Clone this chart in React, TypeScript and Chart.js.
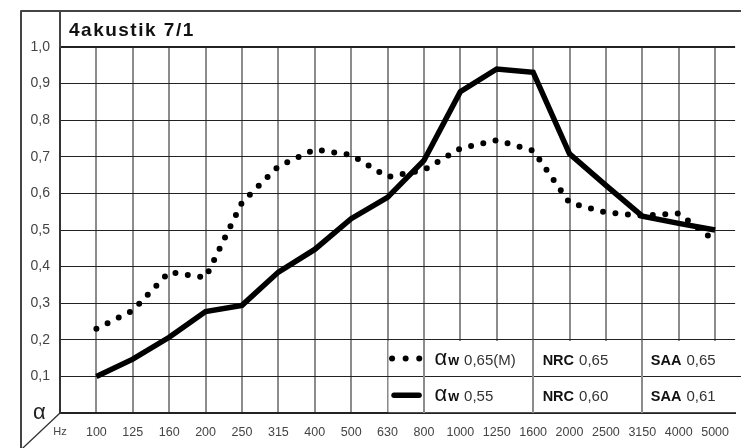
import { useEffect, useRef } from 'react';
import { Chart, registerables } from 'chart.js';

Chart.register(...registerables);

const TITLE = '4akustik 7/1';
const UNIT_LABEL = 'Hz';
const AXIS_SYMBOL = 'α';
const FREQ_LABELS = ['100', '125', '160', '200', '250', '315', '400', '500', '630', '800', '1000', '1250', '1600', '2000', '2500', '3150', '4000', '5000'];
const ALPHA_DOTTED = [0.23, 0.28, 0.385, 0.37, 0.575, 0.674, 0.72, 0.705, 0.645, 0.664, 0.723, 0.745, 0.717, 0.574, 0.548, 0.539, 0.545, 0.47];
const ALPHA_SOLID = [0.1, 0.147, 0.207, 0.277, 0.294, 0.385, 0.447, 0.531, 0.589, 0.69, 0.878, 0.94, 0.931, 0.708, 0.622, 0.538, 0.518, 0.5];
const Y_MIN = 0;
const Y_MAX = 1;
const Y_STEP = 0.1;
const X_VISIBLE_MAX = 17.55;
const LEGEND_AW = ['0,65(M)', '0,55'];
const LEGEND_NRC = ['0,65', '0,60'];
const LEGEND_SAA = ['0,65', '0,61'];

const FONT = "'Liberation Sans', Arial, sans-serif";

const framePlugin = {
  id: 'frame',
  afterDraw(chart: any) {
    const { ctx, scales, width: W, height: H } = chart;
    const x = scales.x;
    const y = scales.y;
    const left = x.getPixelForValue(-1);
    const yTopGrid = y.getPixelForValue(1);
    const y0 = y.getPixelForValue(0);
    ctx.save();

    // ---- legend table ----
    const lx = x.getPixelForValue(8);
    const cols = [9, 12, 15].map((v) => x.getPixelForValue(v));
    const rTop = y.getPixelForValue(0.2);
    const rMid = y.getPixelForValue(0.1);
    ctx.fillStyle = '#fff';
    ctx.fillRect(lx + 1, Math.round(rTop) + 1, W - lx, y0 - rTop - 2);
    ctx.strokeStyle = '#222';
    ctx.lineWidth = 1;
    ctx.beginPath();
    ctx.moveTo(lx, Math.round(rMid - 0.5) + 0.5);
    ctx.lineTo(W, Math.round(rMid - 0.5) + 0.5);
    ctx.stroke();
    ctx.strokeStyle = '#8c8c8c';
    ctx.lineWidth = 2;
    ctx.beginPath();
    for (const c of cols) {
      const cx = Math.round(c - 1) + 1;
      ctx.moveTo(cx, rTop);
      ctx.lineTo(cx, y0);
    }
    ctx.stroke();

    const rowBase = [rTop + 25, rMid + 25];
    const rowMid = [(rTop + rMid) / 2 + 0.5, (rMid + y0) / 2 + 0.5];
    for (let r = 0; r < 2; r++) {
      // sample
      ctx.fillStyle = '#000';
      ctx.strokeStyle = '#000';
      if (r === 0) {
        for (let k = 0; k < 3; k++) {
          ctx.beginPath();
          ctx.arc(lx + 4.5 + k * 13.6, rowMid[r], 3, 0, Math.PI * 2);
          ctx.fill();
        }
      } else {
        ctx.lineWidth = 5.5;
        ctx.lineCap = 'round';
        ctx.beginPath();
        ctx.moveTo(lx + 6.5, rowMid[r]);
        ctx.lineTo(lx + 31.5, rowMid[r]);
        ctx.stroke();
      }
      ctx.textBaseline = 'alphabetic';
      ctx.textAlign = 'left';
      // alpha w
      let tx = cols[0] + 10.5;
      ctx.fillStyle = '#111';
      ctx.font = `22px ${FONT}`;
      ctx.fillText(AXIS_SYMBOL, tx, rowBase[r]);
      tx += ctx.measureText(AXIS_SYMBOL).width + 1;
      ctx.font = `bold 14px ${FONT}`;
      ctx.fillText('w', tx, rowBase[r]);
      tx += ctx.measureText('w').width + 5;
      ctx.fillStyle = '#333';
      ctx.font = `15px ${FONT}`;
      ctx.fillText(LEGEND_AW[r], tx, rowBase[r]);
      // NRC
      tx = cols[1] + 9.5;
      ctx.fillStyle = '#111';
      ctx.font = `bold 14.5px ${FONT}`;
      ctx.fillText('NRC', tx, rowBase[r]);
      tx += ctx.measureText('NRC').width + 5;
      ctx.fillStyle = '#333';
      ctx.font = `15px ${FONT}`;
      ctx.fillText(LEGEND_NRC[r], tx, rowBase[r]);
      // SAA
      tx = cols[2] + 8.5;
      ctx.fillStyle = '#111';
      ctx.font = `bold 14.5px ${FONT}`;
      ctx.fillText('SAA', tx, rowBase[r]);
      tx += ctx.measureText('SAA').width + 5;
      ctx.fillStyle = '#333';
      ctx.font = `15px ${FONT}`;
      ctx.fillText(LEGEND_SAA[r], tx, rowBase[r]);
    }

    // ---- outer frame ----
    const frameX = 21;
    const frameY = 11;
    ctx.strokeStyle = '#444';
    ctx.lineWidth = 2;
    ctx.beginPath();
    ctx.moveTo(frameX, frameY);
    ctx.lineTo(W, frameY);
    ctx.moveTo(frameX, frameY);
    ctx.lineTo(frameX, H);
    ctx.moveTo(left, frameY);
    ctx.lineTo(left, yTopGrid);
    ctx.stroke();
    // diagonal
    ctx.strokeStyle = '#333';
    ctx.lineWidth = 1.3;
    ctx.beginPath();
    ctx.moveTo(left, y0);
    ctx.lineTo(left - (H - y0) * 1.06, H);
    ctx.stroke();

    // title
    ctx.fillStyle = '#111';
    ctx.font = `bold 19px ${FONT}`;
    (ctx as any).letterSpacing = '1.5px';
    ctx.textBaseline = 'alphabetic';
    ctx.textAlign = 'left';
    ctx.fillText(TITLE, left + 9, frameY + 25);
    (ctx as any).letterSpacing = '0px';

    // alpha symbol at origin
    ctx.font = `22px ${FONT}`;
    ctx.fillStyle = '#222';
    ctx.fillText(AXIS_SYMBOL, frameX + 12, y0 + 6);
    ctx.restore();
  },
};

export default function App() {
  const ref = useRef<HTMLCanvasElement | null>(null);
  useEffect(() => {
    if (!ref.current) return;
    const tickLabels = [UNIT_LABEL, ...FREQ_LABELS];
    const chart = new Chart(ref.current, {
      type: 'line',
      data: {
        datasets: [
          {
            data: ALPHA_DOTTED.map((v, i) => ({ x: i, y: v })),
            borderColor: '#000',
            borderWidth: 6,
            borderDash: [0, 12.5],
            borderCapStyle: 'round',
            pointRadius: 0,
            tension: 0,
            fill: false,
          },
          {
            data: ALPHA_SOLID.map((v, i) => ({ x: i, y: v })),
            borderColor: '#000',
            borderWidth: 5.5,
            borderJoinStyle: 'miter',
            borderCapStyle: 'butt',
            pointRadius: 0,
            tension: 0,
            fill: false,
          },
        ],
      },
      options: {
        responsive: false,
        animation: false,
        events: [],
        layout: { padding: { top: 47, left: 0, right: 0, bottom: 0 } },
        plugins: { legend: { display: false }, tooltip: { enabled: false }, title: { display: false } },
        scales: {
          x: {
            type: 'linear',
            min: -1,
            max: X_VISIBLE_MAX,
            afterFit: (s: any) => {
              s.height = 35;
            },
            afterBuildTicks: (s: any) => {
              s.ticks = tickLabels.map((_, i) => ({ value: i - 1 }));
            },
            grid: { color: '#8c8c8c', lineWidth: 2, drawTicks: false },
            border: { display: true, color: '#222', width: 2 },
            ticks: {
              autoSkip: false,
              maxRotation: 0,
              padding: 12,
              color: '#444',
              font: (c: any) => ({ family: FONT, size: c.index === 0 ? 11 : 12.5 }),
              callback: (v: any) => tickLabels[Math.round(Number(v)) + 1] ?? '',
            },
          },
          y: {
            min: Y_MIN,
            max: Y_MAX,
            afterFit: (s: any) => {
              s.width = 60;
            },
            grid: {
              color: '#222',
              lineWidth: (c: any) => (c.tick && Math.abs(c.tick.value - Y_MAX) < 1e-6 ? 2 : 1),
              drawTicks: false,
            },
            border: { display: true, color: '#333', width: 2 },
            ticks: {
              stepSize: Y_STEP,
              padding: 10,
              color: '#444',
              font: { family: FONT, size: 14 },
              callback: (v: any) => (Number(v) < 1e-6 ? '' : Number(v).toFixed(1).replace('.', ',')),
            },
          },
        },
      },
      plugins: [framePlugin],
    } as any);
    return () => chart.destroy();
  }, []);
  return (
    <div style={{ position: 'fixed', left: 0, top: 0, width: 741, height: 448, background: '#fff' }}>
      <canvas ref={ref} width={741} height={448} style={{ display: 'block' }} />
    </div>
  );
}
